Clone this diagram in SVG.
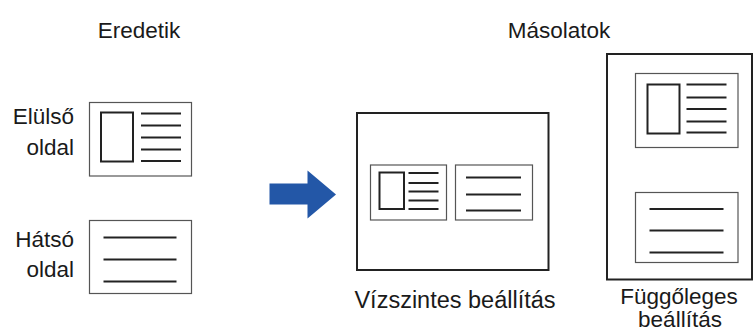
<svg xmlns="http://www.w3.org/2000/svg" width="754" height="331" viewBox="0 0 754 331">
<style>
text{font-family:"Liberation Sans",Arial,sans-serif;font-size:22.5px;fill:#1a1a1a}
.big{font-size:23.5px}
.card{fill:#fff;stroke:#555;stroke-width:1.2}
.page{fill:#fff;stroke:#222;stroke-width:2}
.ln{stroke:#222;stroke-width:2;fill:none}
.pic{fill:#fff;stroke:#222;stroke-width:2}
</style>
<rect width="754" height="331" fill="#fff"/>
<g id="titles">
<text x="139" y="37.5" text-anchor="middle">Eredetik</text>
<text x="559" y="37.5" text-anchor="middle">Másolatok</text>
</g>
<g id="front-original">
<text x="74" y="124" text-anchor="end">Elülső</text>
<text x="74" y="155" text-anchor="end">oldal</text>
<rect class="card" x="89.5" y="102.5" width="102" height="73.5"/>
<rect class="pic" x="101" y="112.5" width="32" height="49"/>
<path class="ln" d="M141 113.5H181M141 125.5H181M141 137.5H181M141 149.5H181M141 161H181"/>
</g>
<g id="back-original">
<text x="74" y="246.5" text-anchor="end">Hátsó</text>
<text x="74" y="276.7" text-anchor="end">oldal</text>
<rect class="card" x="89.5" y="220.5" width="102" height="73"/>
<path class="ln" d="M103.5 237.5H176.5M103.5 259.5H176.5M103.5 281.5H176.5"/>
</g>
<g id="connectors">
<path d="M269.5 183.5H307.5V170.5L336 194.5L307.5 218.5V204.5H269.5Z" fill="#2357A7"/>
</g>
<g id="horizontal-copy">
<rect class="page" x="357" y="113" width="191.5" height="157"/>
<rect class="card" x="370.5" y="165" width="76" height="55"/>
<rect class="pic" x="379.5" y="172.5" width="24.5" height="36.5"/>
<path class="ln" d="M408.5 173H438.5M408.5 183H438.5M408.5 191.5H438.5M408.5 200.5H438.5M408.5 209H438.5"/>
<rect class="card" x="455.5" y="165" width="77" height="55"/>
<path class="ln" d="M466 177.5H521M466 194.5H521M466 210.5H521"/>
<text class="big" x="455" y="308" text-anchor="middle">Vízszintes beállítás</text>
</g>
<g id="vertical-copy">
<rect class="page" x="607" y="54" width="145" height="225.5"/>
<rect class="card" x="635.5" y="73.5" width="102.5" height="74"/>
<rect class="pic" x="647.5" y="84.5" width="32" height="49"/>
<path class="ln" d="M686.5 84.5H726.5M686.5 97.5H726.5M686.5 109H726.5M686.5 121.5H726.5M686.5 132.5H726.5"/>
<rect class="card" x="635.5" y="192.5" width="102.5" height="70"/>
<path class="ln" d="M649.5 209H723.5M649.5 230.5H723.5M649.5 252.5H723.5"/>
<text x="679" y="304" text-anchor="middle">Függőleges</text>
<text x="680" y="326.5" text-anchor="middle">beállítás</text>
</g>
</svg>
